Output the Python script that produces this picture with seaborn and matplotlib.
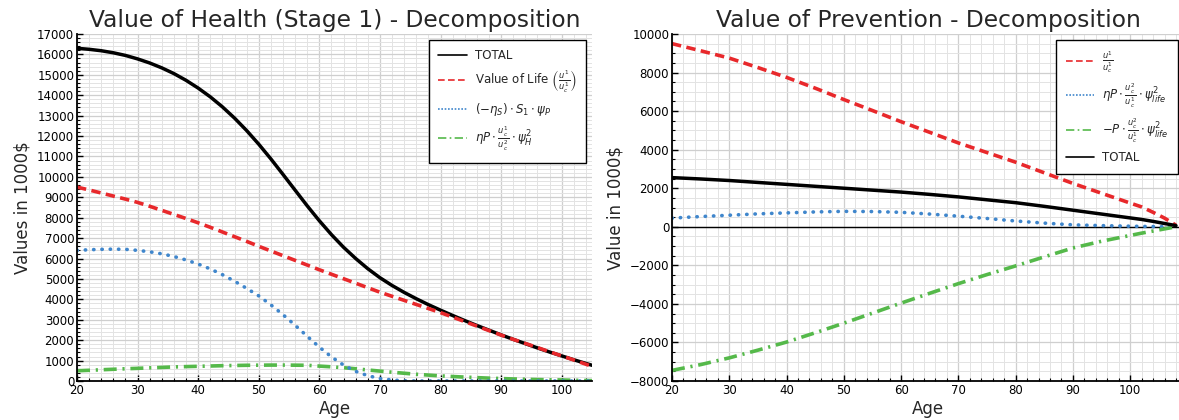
import numpy as np
import pandas as pd
import matplotlib
matplotlib.use("Agg")
import matplotlib.pyplot as plt
import seaborn as sns
from matplotlib.lines import Line2D
from matplotlib.ticker import MultipleLocator

# ---------------- data (values in 1000$) ----------------
age_h = [20, 22, 24, 26, 28, 30, 32, 34, 36, 38, 40, 42, 44, 46, 48, 50, 52, 54, 56, 58,
         60, 62, 64, 66, 68, 70, 72, 74, 76, 78, 80, 82, 84, 86, 88, 90, 92, 94, 96, 98,
         100, 102, 104, 105]
health_total = [16300, 16250, 16180, 16080, 15950, 15780, 15580, 15340, 15060, 14730,
                14350, 13920, 13430, 12880, 12270, 11600, 10880, 10120, 9350, 8580,
                7850, 7170, 6550, 6000, 5500, 5060, 4680, 4340, 4030, 3740,
                3470, 3210, 2960, 2720, 2490, 2260, 2040, 1830, 1620, 1420,
                1230, 1040, 860, 770]
health_life = [9500, 9360, 9210, 9060, 8910, 8750, 8560, 8360, 8160, 7960,
               7750, 7530, 7300, 7070, 6840, 6600, 6370, 6140, 5910, 5680,
               5450, 5230, 5010, 4790, 4570, 4350, 4150, 3950, 3750, 3550,
               3350, 3130, 2910, 2690, 2470, 2250, 2040, 1840, 1640, 1430,
               1230, 1030, 820, 720]
health_surv = [6400, 6430, 6450, 6460, 6450, 6400, 6330, 6230, 6100, 5930,
               5730, 5490, 5210, 4890, 4540, 4170, 3730, 3250, 2730, 2190,
               1660, 1180, 780, 470, 260, 120, 50, 10, 0, 0,
               0, 0, 0, 0, 0, 0, 0, 0, 0, 0,
               0, 0, 0, 0]
health_psi = [500, 525, 550, 575, 600, 620, 645, 665, 690, 705,
              720, 735, 750, 760, 770, 775, 780, 780, 775, 770,
              730, 695, 650, 600, 540, 485, 430, 380, 330, 290,
              250, 220, 190, 165, 140, 120, 100, 85, 70, 60,
              50, 35, 25, 20]

age_p = [20, 25, 30, 35, 40, 45, 50, 55, 60, 65, 70, 75, 80, 85, 90, 95, 100, 102,
         104, 106, 108]
prev_life = [9500, 9130, 8750, 8260, 7750, 7190, 6600, 6030, 5450, 4900,
             4350, 3850, 3350, 2800, 2250, 1740, 1230, 1030, 750, 450, 80]
prev_eta = [450, 530, 600, 670, 720, 770, 800, 790, 750, 660,
            550, 430, 300, 190, 100, 60, 30, 20, 12, 5, 0]
prev_minus = [-7450, -7150, -6800, -6400, -5980, -5500, -5000, -4480, -3960, -3450,
              -2950, -2480, -2030, -1560, -1100, -750, -450, -330, -220, -110, 0]
prev_total = [2550, 2480, 2400, 2300, 2200, 2100, 2000, 1900, 1800, 1680,
              1550, 1400, 1250, 1060, 860, 660, 460, 380, 280, 170, 60]

RED = "#e8282b"
BLUE = "#3f86cc"
GREEN = "#55b94a"

DASH = (0, (2.6, 1.5))
DOT = (0, (0.1, 2.2))
DASHDOT = (0, (3.6, 1.6, 0.6, 1.6))

sns.set_style("white")
plt.rcParams["font.family"] = ["DejaVu Sans"]
plt.rcParams["mathtext.fontset"] = "dejavusans"

fig = plt.figure(figsize=(11.79, 4.20), dpi=100)
ax1 = fig.add_axes([77 / 1179, 1 - 381 / 420, (592 - 77) / 1179, 347 / 420])
ax2 = fig.add_axes([672 / 1179, 1 - 381 / 420, (1184 - 672) / 1179, 347 / 420])


def style(ax):
    for s in ["top", "right"]:
        ax.spines[s].set_visible(False)
    for s in ["left", "bottom"]:
        ax.spines[s].set_color("black")
        ax.spines[s].set_linewidth(1.3)
    ax.tick_params(which="both", direction="in", left=True, bottom=True,
                   colors="black", labelsize=8.5, pad=2)
    ax.tick_params(which="major", length=4, width=1)
    ax.tick_params(which="minor", length=2.5, width=0.8)
    ax.grid(True, which="major", color="#cfcfcf", lw=0.9)
    ax.grid(True, which="minor", color="#e3e3e3", lw=0.7)
    ax.set_axisbelow(True)


# ---------------- left panel ----------------
dh = pd.DataFrame({"age": age_h, "total": health_total, "life": health_life,
                   "surv": health_surv, "psi": health_psi})
sns.lineplot(data=dh, x="age", y="psi", ax=ax1, color=GREEN, lw=2.6, linestyle=DASHDOT)
sns.lineplot(data=dh, x="age", y="surv", ax=ax1, color=BLUE, lw=2.6, linestyle=DOT,
             dash_capstyle="round")
sns.lineplot(data=dh, x="age", y="total", ax=ax1, color="black", lw=2.5)
sns.lineplot(data=dh, x="age", y="life", ax=ax1, color=RED, lw=2.6, linestyle=DASH)
ax1.set_xlim(20, 105)
ax1.set_ylim(0, 17000)
ax1.xaxis.set_major_locator(MultipleLocator(10))
ax1.xaxis.set_minor_locator(MultipleLocator(2))
ax1.yaxis.set_major_locator(MultipleLocator(1000))
ax1.yaxis.set_minor_locator(MultipleLocator(200))
style(ax1)
ax1.set_title("Value of Health (Stage 1) - Decomposition", fontsize=16.8, pad=5)
ax1.set_xlabel("Age", fontsize=12, labelpad=2)
ax1.set_ylabel("Values in 1000$", fontsize=12, labelpad=4)

h1 = [Line2D([], [], color="black", lw=1.2),
      Line2D([], [], color=RED, lw=1.2, linestyle=(0, (4, 2))),
      Line2D([], [], color=BLUE, lw=1.2, linestyle=(0, (1, 1))),
      Line2D([], [], color=GREEN, lw=1.2, linestyle=(0, (5, 2, 1, 2)))]
l1 = ["TOTAL", r"Value of Life $\left(\frac{u^1}{u_c^1}\right)$",
      r"$(-\eta_S)\cdot S_1\cdot\psi_P$",
      r"$\eta P\cdot\frac{u_c^1}{u_c^2}\cdot\psi_H^2$"]
leg1 = ax1.legend(h1, l1, loc="upper right", fontsize=8.5, frameon=True, fancybox=False,
                  edgecolor="black", framealpha=1, borderpad=0.8, labelspacing=0.55,
                  handlelength=2.4, handletextpad=0.7, borderaxespad=0.5)
leg1.get_frame().set_linewidth(1.0)

# ---------------- right panel ----------------
dp = pd.DataFrame({"age": age_p, "life": prev_life, "eta": prev_eta,
                   "minus": prev_minus, "total": prev_total})
ax2.axhline(0, color="black", lw=1.0, zorder=1.5)
sns.lineplot(data=dp, x="age", y="life", ax=ax2, color=RED, lw=2.6, linestyle=DASH)
sns.lineplot(data=dp, x="age", y="eta", ax=ax2, color=BLUE, lw=2.6, linestyle=DOT,
             dash_capstyle="round")
sns.lineplot(data=dp, x="age", y="minus", ax=ax2, color=GREEN, lw=2.6, linestyle=DASHDOT)
sns.lineplot(data=dp, x="age", y="total", ax=ax2, color="black", lw=2.5)
ax2.set_xlim(20, 109.4)
ax2.set_ylim(-8000, 10000)
ax2.xaxis.set_major_locator(MultipleLocator(10))
ax2.xaxis.set_minor_locator(MultipleLocator(2))
ax2.yaxis.set_major_locator(MultipleLocator(2000))
ax2.yaxis.set_minor_locator(MultipleLocator(500))
style(ax2)
ax2.set_xticks([20, 30, 40, 50, 60, 70, 80, 90, 100])
ax2.set_title("Value of Prevention - Decomposition", fontsize=16.8, pad=5)
ax2.set_xlabel("Age", fontsize=12, labelpad=2)
ax2.set_ylabel("Value in 1000$", fontsize=12, labelpad=4)

h2 = [Line2D([], [], color=RED, lw=1.2, linestyle=(0, (4, 2))),
      Line2D([], [], color=BLUE, lw=1.2, linestyle=(0, (1, 1))),
      Line2D([], [], color=GREEN, lw=1.2, linestyle=(0, (5, 2, 1, 2))),
      Line2D([], [], color="black", lw=1.2)]
l2 = [r"$\frac{u^1}{u_c^1}$",
      r"$\eta P\cdot\frac{u_c^2}{u_c^1}\cdot\psi_{life}^2$",
      r"$-P\cdot\frac{u_c^2}{u_c^1}\cdot\psi_{life}^2$",
      "TOTAL"]
leg2 = ax2.legend(h2, l2, loc="upper right", fontsize=8.5, frameon=True, fancybox=False,
                  edgecolor="black", framealpha=1, borderpad=0.8, labelspacing=0.55,
                  handlelength=2.4, handletextpad=0.7, borderaxespad=0.5)
leg2.get_frame().set_linewidth(1.0)

fig.savefig("out.png", dpi=100)
